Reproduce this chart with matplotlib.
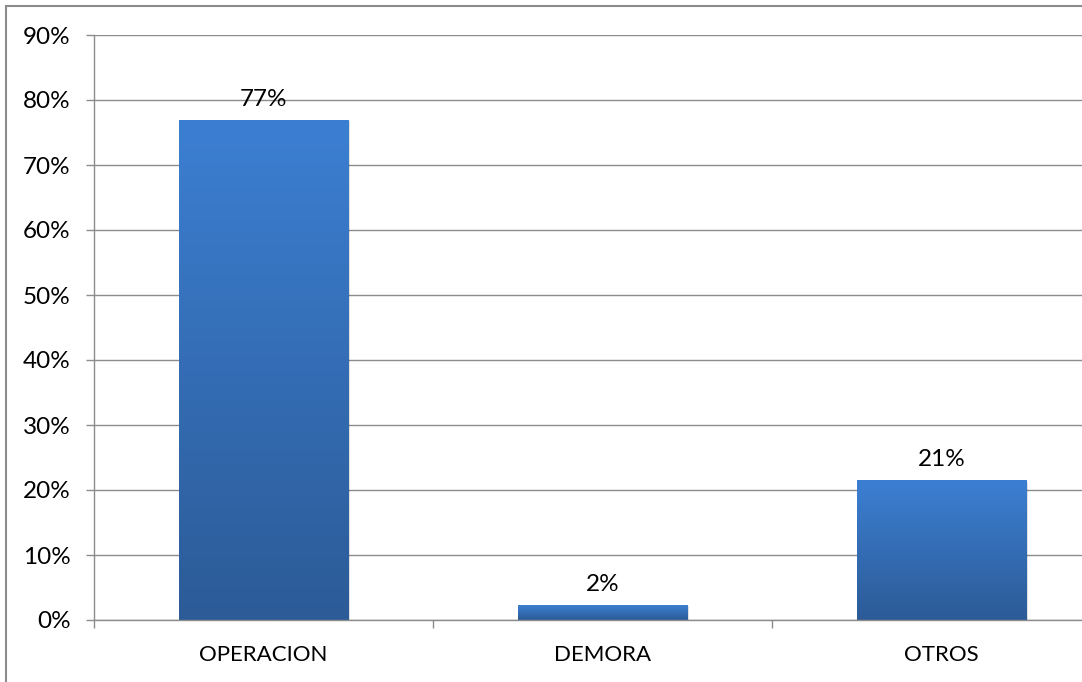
import numpy as np
import matplotlib.pyplot as plt
from matplotlib.colors import LinearSegmentedColormap
from matplotlib.patches import Rectangle

# Data
categories = ['OPERACION', 'DEMORA', 'OTROS']
values = [0.768, 0.022, 0.214]
labels = ['77%', '2%', '21%']
yticks = [0, 0.1, 0.2, 0.3, 0.4, 0.5, 0.6, 0.7, 0.8, 0.9]

plt.rcParams['font.family'] = ['Lato', 'DejaVu Sans']
grid_col = '#8c8c8c'

fig = plt.figure(figsize=(10.82, 6.82), dpi=100)
ax = fig.add_axes([94 / 1082, 1 - 620 / 682, 1 - 94 / 1082, (620 - 35) / 682])

# outer chart border (cropped on right and bottom)
fig.patches.append(Rectangle((6 / 1082, -0.1), 1.2, 1 - 6 / 682 + 0.1,
                             transform=fig.transFigure, fill=False,
                             edgecolor='#8c8c8c', linewidth=1.5, zorder=0))

x = np.arange(len(categories))
bars = ax.bar(x, values, width=0.5, color='none', zorder=3)

# vertical gradient for each bar
cmap = LinearSegmentedColormap.from_list('bar', ['#2c5b97', '#3c7fd2'])
grad = np.linspace(0, 1, 256).reshape(-1, 1)
for b in bars:
    x0, w, h = b.get_x(), b.get_width(), b.get_height()
    # soft shadow
    ax.add_patch(Rectangle((x0 + 0.006, -0.001), w, h, facecolor='#000000',
                           alpha=0.12, edgecolor='none', zorder=2))
    ax.imshow(grad, extent=[x0, x0 + w, 0, h], origin='lower', cmap=cmap,
              aspect='auto', zorder=3, interpolation='bilinear')

for xi, v, lab in zip(x, values, labels):
    ax.annotate(lab, (xi, v), xytext=(0, 8), textcoords='offset points',
                ha='center', va='bottom', fontsize=17.5, color='black')

ax.set_yticks(yticks)
ax.set_yticklabels([f'{int(round(t * 100))}%' for t in yticks])
ax.set_xticks(x)
ax.set_xticklabels(categories)
ax.set_xticks([-0.5, 0.5, 1.5, 2.5], minor=True)
ax.set_xlim(-0.5, -0.5 + (1082 - 94) / 339)
ax.set_ylim(0, 0.9)

ax.tick_params(axis='y', length=6, width=1, color=grid_col, pad=11, labelsize=17.5)
ax.tick_params(axis='x', which='major', length=0, pad=18, labelsize=16)
ax.tick_params(axis='x', which='minor', length=6, width=1, color=grid_col)

ax.yaxis.grid(True, color=grid_col, linewidth=1)
ax.set_axisbelow(True)
for s in ['top', 'right']:
    ax.spines[s].set_visible(False)
for s in ['left', 'bottom']:
    ax.spines[s].set_color(grid_col)
    ax.spines[s].set_linewidth(1)
ax.spines['bottom'].set_zorder(4)

fig.savefig('out.png', dpi=100)
